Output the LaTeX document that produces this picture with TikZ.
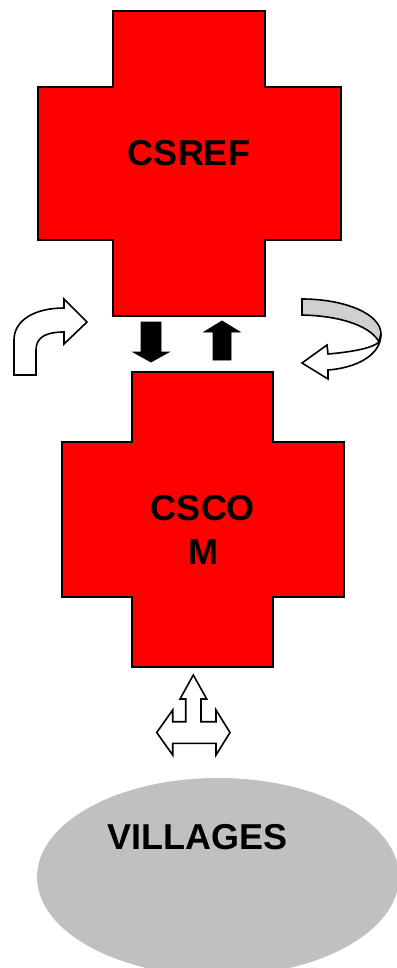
\documentclass[tikz,border=0pt]{standalone}
\usepackage{fontspec}
\setmainfont{Liberation Sans}
\begin{document}
\begin{tikzpicture}[x=1pt,y=-1pt,
  crossbox/.style={fill=red,draw=black,line width=1.2pt,line join=miter},
  label/.style={font=\bfseries\fontsize{36}{43.7}\selectfont,align=center,inner sep=0pt},
  blockarrow/.style={fill=black,draw=black,line width=0.8pt},
  outlinearrow/.style={fill=white,draw=black,line width=1.6pt,line join=miter}]
\useasboundingbox (0,0) rectangle (396,968);
% villages ellipse
\fill[fill={rgb,255:red,192;green,192;blue,192}] (218,877) ellipse [x radius=181, y radius=99];
\node[label] (villages) at (197.5,837) {VILLAGES};
% top cross
\draw[crossbox] (113,11) -- (265,11) -- (265,87) -- (341,87) -- (341,240) -- (265,240) -- (265,316) -- (113,316) -- (113,240) -- (38,240) -- (38,87) -- (113,87) -- cycle;
\node[label] (csref) at (189,153) {CSREF};
% bottom cross
\draw[crossbox] (132,372) -- (273,372) -- (273,442) -- (344,442) -- (344,597) -- (273,597) -- (273,667) -- (132,667) -- (132,597) -- (62,597) -- (62,442) -- (132,442) -- cycle;
\node[label] (cscom) at (203,530) {CSCO\\M};
% down and up arrows
\draw[blockarrow] (141,322) -- (161,322) -- (161,352) -- (169,352) -- (151,362) -- (133,352) -- (141,352) -- cycle;
\draw[blockarrow] (213,360) -- (231,360) -- (231,332) -- (240,332) -- (222,321) -- (204,332) -- (213,332) -- cycle;
% bent arrow (left)
\draw[outlinearrow] (14,375) -- (14,340) .. controls (14,320) and (35,308) .. (64,308) -- (64,299) -- (87,322) -- (64,344) -- (64,332) .. controls (48,332) and (36,336) .. (36,350) -- (36,375) -- cycle;
% circular arrow (right)
\draw[fill={rgb,255:red,208;green,208;blue,208},draw=black,line width=1.6pt,line join=miter] (302,299) .. controls (345,299) and (381,314) .. (381,334) -- (379,342) .. controls (372,328) and (345,316) .. (302,315) -- cycle;
\draw[outlinearrow] (381,334) .. controls (381,356) and (355,368) .. (328,370) -- (328,379) -- (302,363) -- (327,345) -- (328,354) .. controls (352,352) and (373,348) .. (379,342) -- cycle;
% three-way arrow
\draw[outlinearrow] (193.3,675) -- (206.7,699) -- (201,699) -- (201,721.7) -- (216,721.7) -- (216,710) -- (230,732.5) -- (216,755) -- (216,743.3) -- (172.7,743.3) -- (172.7,755) -- (156.7,732.5) -- (172.7,710) -- (172.7,721.7) -- (185.7,721.7) -- (185.7,699) -- (180,699) -- cycle;
\end{tikzpicture}
\end{document}
